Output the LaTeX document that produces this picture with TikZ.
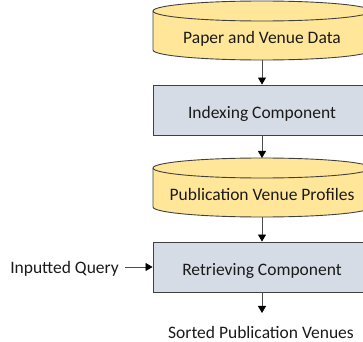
\documentclass[tikz,border=0pt]{standalone}
\usepackage{fontspec}
\setmainfont{Carlito}
\usetikzlibrary{arrows.meta,calc}
\definecolor{cylfill}{HTML}{FFE699}
\definecolor{boxfill}{HTML}{D6DCE5}
\definecolor{edgecol}{HTML}{404040}
\definecolor{txtcol}{HTML}{1A1A1A}
\newcommand\dbshape[2]{% #1 top y, #2 bottom y
  \path[draw=edgecol, fill=cylfill, line width=0.9bp]
    (153,{#1-10}) -- (153,{#2+10})
    arc[start angle=180, end angle=360, x radius=109, y radius=10]
    -- (371,{#1-10})
    arc[start angle=0, end angle=180, x radius=109, y radius=10] -- cycle;
  \draw[edgecol, line width=0.9bp] (153,{#1-10})
    arc[start angle=180, end angle=360, x radius=109, y radius=10];
}
\begin{document}
\begin{tikzpicture}[x=1bp,y=1bp,
  lbl/.style={font=\fontsize{17.5bp}{21bp}\selectfont, text=txtcol, inner sep=0pt},
  compbox/.style={draw=edgecol, fill=boxfill, line width=0.9bp, minimum width=218bp, minimum height=50bp, inner sep=0pt, text height=16bp, text depth=0pt},
  conn/.style={draw=black!70, line width=0.8bp, -{Triangle[length=7bp,width=8bp,color=black]}},
]
\clip (0,0) rectangle (363,342);
% database 1
\dbshape{341}{282}
\node[lbl, anchor=base] (d1) at (262,299) {Paper and Venue Data};
\coordinate (d1b) at (262,282);
% indexing box
\node[compbox, lbl] (b1) at (262,232) {Indexing Component};
% database 2
\dbshape{184}{125}
\node[lbl, anchor=base] (d2) at (262,142) {Publication Venue Profiles};
\coordinate (d2t) at (262,184);
\coordinate (d2b) at (262,125);
% retrieving box
\node[compbox, lbl] (b2) at (262,75) {Retrieving Component};
% input / output
\node[lbl, anchor=base east] (in) at (119,68.5) {Inputted Query};
\node[lbl, anchor=base] (out) at (261,4) {Sorted Publication Venues};
\coordinate (outtip) at (262,29);
% connectors
\draw[conn] (d1b) -- (b1.north);
\draw[conn] (b1.south) -- (d2t);
\draw[conn] (d2b) -- (b2.north);
\draw[conn] ($(in.east |- b2.west)+(6,0)$) -- (b2.west);
\draw[conn] (b2.south) -- (outtip);
\end{tikzpicture}
\end{document}
